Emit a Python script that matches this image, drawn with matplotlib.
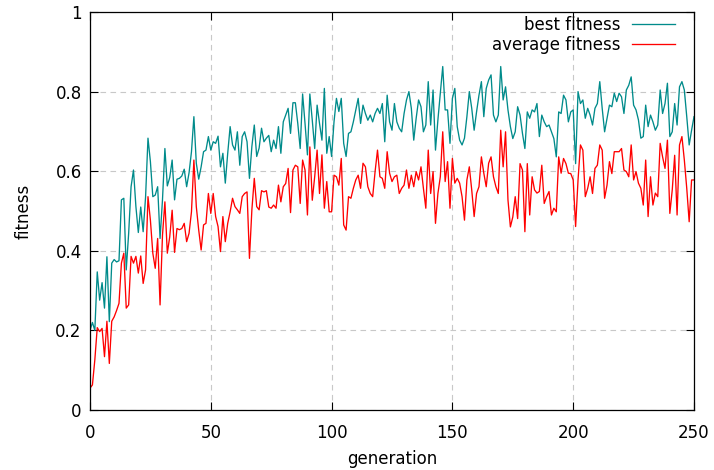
import numpy as np
import matplotlib.pyplot as plt

plt.rc('font', family='DejaVu Sans', size=12)

# data (one value per generation 0..250)
best_fitness = [
    0.200, 0.220, 0.200, 0.347, 0.276, 0.320, 0.256, 0.385, 0.222, 0.369,
    0.378, 0.372, 0.375, 0.528, 0.532, 0.352, 0.444, 0.561, 0.603, 0.511,
    0.446, 0.510, 0.448, 0.535, 0.683, 0.624, 0.536, 0.540, 0.561, 0.431,
    0.528, 0.657, 0.563, 0.584, 0.628, 0.528, 0.580, 0.582, 0.588, 0.605,
    0.561, 0.596, 0.649, 0.737, 0.620, 0.580, 0.611, 0.649, 0.653, 0.687,
    0.653, 0.674, 0.670, 0.688, 0.611, 0.645, 0.570, 0.645, 0.712, 0.666,
    0.653, 0.699, 0.615, 0.687, 0.699, 0.674, 0.582, 0.662, 0.716, 0.637,
    0.658, 0.708, 0.674, 0.683, 0.690, 0.649, 0.678, 0.657, 0.712, 0.645,
    0.724, 0.741, 0.758, 0.695, 0.772, 0.772, 0.720, 0.657, 0.794, 0.720,
    0.641, 0.794, 0.728, 0.657, 0.766, 0.720, 0.678, 0.808, 0.645, 0.687,
    0.637, 0.724, 0.783, 0.750, 0.783, 0.670, 0.637, 0.695, 0.699, 0.724,
    0.754, 0.783, 0.720, 0.766, 0.745, 0.728, 0.741, 0.724, 0.745, 0.758,
    0.745, 0.770, 0.674, 0.791, 0.724, 0.703, 0.770, 0.724, 0.708, 0.699,
    0.745, 0.779, 0.800, 0.758, 0.678, 0.733, 0.779, 0.762, 0.699, 0.716,
    0.825, 0.716, 0.804, 0.653, 0.729, 0.796, 0.863, 0.754, 0.754, 0.670,
    0.783, 0.808, 0.712, 0.678, 0.666, 0.683, 0.737, 0.800, 0.758, 0.703,
    0.749, 0.791, 0.825, 0.737, 0.808, 0.829, 0.842, 0.741, 0.724, 0.741,
    0.863, 0.779, 0.812, 0.754, 0.712, 0.682, 0.699, 0.762, 0.741, 0.695,
    0.657, 0.749, 0.733, 0.754, 0.749, 0.770, 0.687, 0.741, 0.724, 0.712,
    0.716, 0.699, 0.682, 0.636, 0.749, 0.745, 0.791, 0.779, 0.724, 0.749,
    0.754, 0.619, 0.800, 0.770, 0.779, 0.733, 0.758, 0.741, 0.716, 0.758,
    0.770, 0.825, 0.758, 0.699, 0.733, 0.766, 0.762, 0.796, 0.775, 0.796,
    0.787, 0.745, 0.804, 0.816, 0.837, 0.766, 0.754, 0.729, 0.683, 0.687,
    0.766, 0.712, 0.741, 0.724, 0.703, 0.716, 0.804, 0.745, 0.770, 0.821,
    0.687, 0.699, 0.770, 0.716, 0.812, 0.825, 0.804, 0.737, 0.666, 0.703,
    0.737,
]

average_fitness = [
    0.055, 0.063, 0.126, 0.207, 0.197, 0.205, 0.134, 0.223, 0.117, 0.223,
    0.234, 0.250, 0.268, 0.369, 0.394, 0.256, 0.264, 0.386, 0.369, 0.386,
    0.344, 0.387, 0.318, 0.352, 0.536, 0.477, 0.394, 0.356, 0.431, 0.264,
    0.439, 0.523, 0.394, 0.435, 0.502, 0.396, 0.456, 0.453, 0.456, 0.469,
    0.423, 0.444, 0.498, 0.628, 0.511, 0.452, 0.402, 0.465, 0.469, 0.544,
    0.494, 0.544, 0.486, 0.461, 0.398, 0.486, 0.423, 0.469, 0.498, 0.532,
    0.511, 0.503, 0.494, 0.536, 0.544, 0.548, 0.381, 0.503, 0.582, 0.511,
    0.503, 0.551, 0.548, 0.551, 0.510, 0.507, 0.515, 0.507, 0.565, 0.523,
    0.561, 0.569, 0.607, 0.496, 0.603, 0.615, 0.611, 0.519, 0.628, 0.603,
    0.490, 0.661, 0.527, 0.586, 0.653, 0.544, 0.641, 0.507, 0.574, 0.498,
    0.498, 0.590, 0.586, 0.565, 0.632, 0.465, 0.452, 0.536, 0.532, 0.557,
    0.578, 0.590, 0.557, 0.620, 0.611, 0.561, 0.544, 0.536, 0.599, 0.653,
    0.586, 0.582, 0.557, 0.649, 0.595, 0.574, 0.586, 0.590, 0.544, 0.557,
    0.565, 0.603, 0.557, 0.590, 0.561, 0.599, 0.578, 0.611, 0.557, 0.507,
    0.653, 0.544, 0.599, 0.469, 0.544, 0.586, 0.699, 0.574, 0.624, 0.507,
    0.632, 0.570, 0.582, 0.570, 0.536, 0.477, 0.578, 0.611, 0.553, 0.486,
    0.544, 0.561, 0.636, 0.595, 0.561, 0.620, 0.636, 0.586, 0.561, 0.544,
    0.703, 0.611, 0.699, 0.528, 0.460, 0.485, 0.536, 0.481, 0.619, 0.603,
    0.448, 0.619, 0.490, 0.586, 0.553, 0.545, 0.549, 0.615, 0.519, 0.536,
    0.549, 0.490, 0.507, 0.498, 0.636, 0.595, 0.632, 0.619, 0.595, 0.594,
    0.578, 0.461, 0.578, 0.666, 0.653, 0.536, 0.557, 0.586, 0.544, 0.607,
    0.615, 0.666, 0.653, 0.532, 0.565, 0.624, 0.594, 0.649, 0.649, 0.649,
    0.657, 0.603, 0.599, 0.586, 0.666, 0.578, 0.599, 0.570, 0.557, 0.515,
    0.628, 0.486, 0.586, 0.515, 0.545, 0.536, 0.670, 0.636, 0.607, 0.678,
    0.494, 0.553, 0.640, 0.490, 0.666, 0.687, 0.628, 0.557, 0.473, 0.578,
    0.578,
]

generation = np.arange(len(best_fitness))

# plot
fig = plt.figure(figsize=(7.14, 4.70), dpi=100)
ax = fig.add_axes([90/714, 1 - 410/470, 604/714, 398/470])

ax.plot(generation, best_fitness, color='#008b8b', lw=0.95,
        label='best fitness')
ax.plot(generation, average_fitness, color='#ff0000', lw=0.95,
        label='average fitness')

ax.set_xlim(0, 250)
ax.set_ylim(0, 1)
ax.set_xticks([0, 50, 100, 150, 200, 250])
ax.set_yticks([0, 0.2, 0.4, 0.6, 0.8, 1])
ax.set_yticklabels(['0', '0.2', '0.4', '0.6', '0.8', '1'])

ax.grid(color='#c8c8c8', linestyle=(0, (5, 4)), linewidth=0.8)
ax.set_axisbelow(True)
ax.tick_params(direction='in', top=True, right=True, length=6, width=0.8)
ax.tick_params(axis='x', pad=10)
ax.tick_params(axis='y', pad=6)
for s in ax.spines.values():
    s.set_linewidth(0.9)

ax.set_xlabel('generation', labelpad=6)
ax.set_ylabel('fitness', labelpad=16)

ax.legend(loc='upper right', frameon=False, markerfirst=False,
          bbox_to_anchor=(0.988, 1.02),
          handlelength=2.6, labelspacing=0.15, borderaxespad=0.3,
          handletextpad=0.7)

fig.savefig('out.png', dpi=100)
